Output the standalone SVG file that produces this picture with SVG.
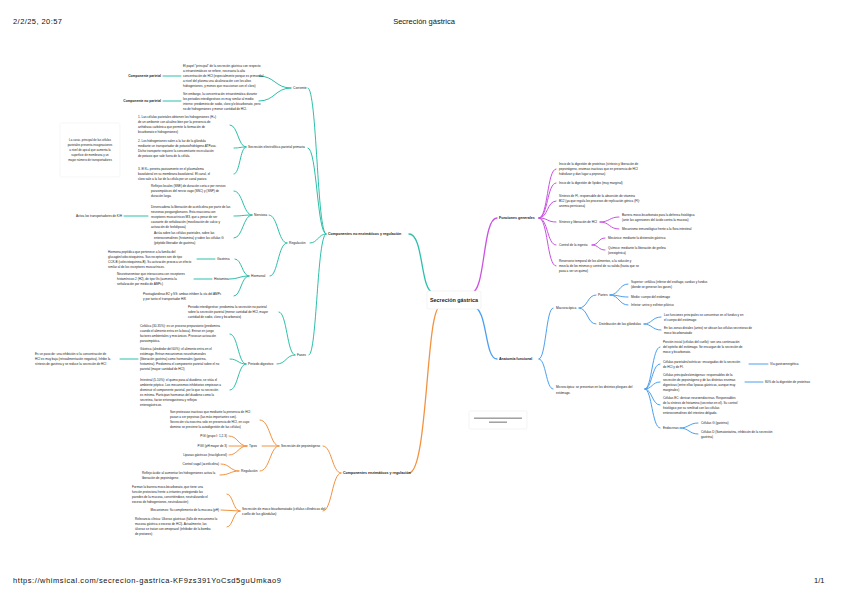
<svg xmlns="http://www.w3.org/2000/svg" width="848" height="599" viewBox="0 0 848 599">
<style>
text{font-family:"Liberation Sans",Arial,sans-serif;fill:#1c1c1c}
.t{font-size:3.1px}
.l{font-size:3.3px}
.b{font-size:3.6px;font-weight:bold}
.bp{font-size:3.3px;font-weight:bold}
.h{font-size:7.5px;fill:#111}
.c{fill:none;stroke-width:1;stroke-linecap:round}
.tc{stroke:#2dbfa9}
.oc{stroke:#f29240}
.pc{stroke:#c952e0}
.bc{stroke:#4c9ff0}
.m{stroke-width:1.3}
</style>
<rect width="848" height="599" fill="#fff"/>
<text class="h" x="13" y="24" textLength="49">2/2/25, 20:57</text>
<text class="h" x="424" y="24" text-anchor="middle">Secreción gástrica</text>
<text class="h" x="13" y="583" textLength="268">https://whimsical.com/secrecion-gastrica-KF9zs391YoCsd5guUmkao9</text>
<text class="h" x="814" y="583">1/1</text>

<g id="connectors">
<!-- main -->
<path class="c tc m" d="M409 234 C424 234,420 293,434 293"/>
<path class="c oc m" d="M409 473 C428 473,426 307,440 307"/>
<path class="c pc m" d="M471 293 C486 293,482 218,497 218"/>
<path class="c bc m" d="M473 307 C488 307,484 359,497 359"/>
<!-- teal -->
<path class="c tc" d="M326 234 C317 234,317 88,308 88"/>
<path class="c tc" d="M326 234 C317 234,317 148,308 148"/>
<path class="c tc" d="M326 234 C318 234,318 243,310 243"/>
<path class="c tc" d="M326 234 C317 234,317 355,309 355"/>
<path class="c tc" d="M291 88 C275 88,275 76,259 76"/>
<path class="c tc" d="M291 88 C275 88,275 101,259 101"/>
<path class="c tc" d="M181 76 L163 76"/>
<path class="c tc" d="M181 101 L163 101"/>
<path class="c tc" d="M246 147 C238 147,238 125,230 125"/>
<path class="c tc" d="M246 147 C240 147,240 148,234 148"/>
<path class="c tc" d="M246 147 C240 147,240 174,234 174"/>
<path class="c tc" d="M287 243 C278 243,278 215,269 215"/>
<path class="c tc" d="M287 243 C278 243,278 276,270 276"/>
<path class="c tc" d="M252 215 C243 215,243 191,234 191"/>
<path class="c tc" d="M252 215 C243 215,243 216,234 216"/>
<path class="c tc" d="M252 215 C243 215,243 238,234 238"/>
<path class="c tc" d="M148 216 L124 216"/>
<path class="c tc" d="M249 276 C242 276,242 259,235 259"/>
<path class="c tc" d="M249 276 C239 276,239 279,229 279"/>
<path class="c tc" d="M249 276 C241 276,241 296,234 296"/>
<path class="c tc" d="M215 259 L197 259"/>
<path class="c tc" d="M212 279 L194 279"/>
<path class="c tc" d="M295 355 C287 355,287 312,279 312"/>
<path class="c tc" d="M295 355 C286 355,286 364,277 364"/>
<path class="c tc" d="M246 364 C238 364,238 334,230 334"/>
<path class="c tc" d="M246 364 C238 364,238 359,230 359"/>
<path class="c tc" d="M246 364 C238 364,238 390,230 390"/>
<path class="c tc" d="M138 359 L120 359"/>
<!-- orange -->
<path class="c oc" d="M341 473 C332 473,332 446,323 446"/>
<path class="c oc" d="M341 473 C332 473,332 511,323 511"/>
<path class="c oc" d="M279 446 C270 446,270 420,260 420"/>
<path class="c oc" d="M279 446 L262 446"/>
<path class="c oc" d="M279 446 C270 446,270 471,260 471"/>
<path class="c oc" d="M247 446 C238 446,238 436,229 436"/>
<path class="c oc" d="M247 446 L229 446"/>
<path class="c oc" d="M247 446 C238 446,238 455,229 455"/>
<path class="c oc" d="M239 471 C230 471,230 464,221 464"/>
<path class="c oc" d="M239 471 C230 471,230 475,220 475"/>
<path class="c oc" d="M240 511 C233 511,233 494,227 494"/>
<path class="c oc" d="M240 511 L221 510"/>
<path class="c oc" d="M240 511 C233 511,233 527,227 527"/>
<!-- purple -->
<path class="c pc" d="M539 218 C548 218,547 169,556 169"/>
<path class="c pc" d="M539 218 C548 218,547 183,556 183"/>
<path class="c pc" d="M539 218 C548 218,547 201,556 201"/>
<path class="c pc" d="M539 218 C548 218,547 222,556 222"/>
<path class="c pc" d="M539 218 C548 218,547 245,556 245"/>
<path class="c pc" d="M539 218 C548 218,547 266,556 266"/>
<path class="c pc" d="M600 222 C610 222,609 217,619 217"/>
<path class="c pc" d="M600 222 C610 222,609 229,619 229"/>
<path class="c pc" d="M592 245 C599 245,598 238,605 238"/>
<path class="c pc" d="M592 245 C599 245,598 250,605 250"/>
<!-- blue -->
<path class="c bc" d="M539 359 C546 359,546 308,553 308"/>
<path class="c bc" d="M539 359 C546 359,546 389,553 389"/>
<path class="c bc" d="M579 308 C588 308,587 295,596 295"/>
<path class="c bc" d="M579 308 C588 308,587 324,596 324"/>
<path class="c bc" d="M610 295 C619 295,619 284,628 284"/>
<path class="c bc" d="M610 295 C619 295,619 297,628 297"/>
<path class="c bc" d="M610 295 C619 295,619 305,628 305"/>
<path class="c bc" d="M644 324 C652 324,652 317,661 317"/>
<path class="c bc" d="M644 324 C652 324,652 330,661 330"/>
<path class="c bc" d="M645 389 C652 389,652 347,660 347"/>
<path class="c bc" d="M645 389 C652 389,652 364,660 364"/>
<path class="c bc" d="M645 389 C652 389,652 382,660 382"/>
<path class="c bc" d="M645 389 C652 389,652 405,660 405"/>
<path class="c bc" d="M645 389 C652 389,652 428,660 428"/>
<path class="c bc" d="M749 364 L768 364"/>
<path class="c bc" d="M745 382 L763 382"/>
<path class="c bc" d="M680 428 C689 428,689 423,698 423"/>
<path class="c bc" d="M680 428 C689 428,689 434,698 434"/>
</g>

<g id="central">
<rect x="427" y="291" width="54" height="18" rx="2" fill="#fff" stroke="#ececec" stroke-width="0.6"/>
<text x="454" y="302" text-anchor="middle" style="font-size:5.4px;font-weight:bold">Secreción gástrica</text>
</g>
<g id="note-box">
<rect x="469" y="411" width="58" height="18" rx="1.5" fill="#fff" stroke="#ececec" stroke-width="0.6"/>
<rect x="474" y="417.5" width="48" height="1.4" fill="#9a9a9a"/>
<rect x="489" y="421.5" width="18" height="1.4" fill="#9a9a9a"/>
</g>

<!-- TEAL -->
<g id="teal-main"><text class="b" x="328" y="235.3">Componentes no enzimáticos y regulación</text></g>
<g id="corriente"><text class="l" x="293" y="89.2">Corriente</text></g>
<g id="corriente-1"><text class="t" x="183" y="67.1"><tspan x="183">El papel “principal” de la secreción gástrica con respecto</tspan><tspan x="183" dy="5">a intraestimáticos se refiere, necesaria la alta</tspan><tspan x="183" dy="5">concentración de HCl (especialmente porque es primordial</tspan><tspan x="183" dy="5">a nivel del plasma una alcalinización con los altos</tspan><tspan x="183" dy="5">hidrogeniones, y menos que reaccionan con el cloro)</tspan></text></g>
<g id="comp-parietal"><text class="bp" x="161" y="77.2" text-anchor="end">Componente parietal</text></g>
<g id="corriente-2"><text class="t" x="183" y="95.1"><tspan x="183">Sin embargo, la concentración intraestimática durante</tspan><tspan x="183" dy="5">los periodos interdigestivos es muy similar al medio</tspan><tspan x="183" dy="5">interno: predominio de sodio, cloro y/o bicarbonato, pero</tspan><tspan x="183" dy="5">no de hidrogeniones y menor cantidad de HCl.</tspan></text></g>
<g id="comp-no-parietal"><text class="bp" x="161" y="102.2" text-anchor="end">Componente no parietal</text></g>
<g id="nota-parietal">
<rect x="60" y="123" width="60" height="54" rx="1.5" fill="#fff" stroke="#f0f0f0" stroke-width="0.6"/>
<text style="font-size:2.9px" x="90" y="141" text-anchor="middle"><tspan x="90">La carac. principal de las células</tspan><tspan x="90" dy="5">parietales presenta invaginaciones</tspan><tspan x="90" dy="5">a nivel de apical que aumenta la</tspan><tspan x="90" dy="5">superficie de membrana y un</tspan><tspan x="90" dy="5">mayor número de transportadores</tspan></text>
</g>
<g id="sec-electrolitica"><text class="l" x="248" y="148.2">Secreción electrolítica parietal primaria</text></g>
<g id="se-1"><text class="t" x="138" y="118.1"><tspan x="138">1. Las células parietales obtienen los hidrogeniones (H+)</tspan><tspan x="138" dy="5">de un ambiente con alcalino bien por la presencia de</tspan><tspan x="138" dy="5">anhidrasa carbónica que permite la formación de</tspan><tspan x="138" dy="5">bicarbonato e hidrogeniones)</tspan></text></g>
<g id="se-2"><text class="t" x="138" y="142.1"><tspan x="138">2. Los hidrogeniones salen a la luz de la glándula</tspan><tspan x="138" dy="5">mediante un transportador de potasio/hidrógeno ATPasa.</tspan><tspan x="138" dy="5">Dicho transporte requiere la concomitante recirculación</tspan><tspan x="138" dy="5">de potasio que sale fuera de la célula.</tspan></text></g>
<g id="se-3"><text class="t" x="138" y="170.1"><tspan x="138">3. El K+ penetra pasivamente en el plasmalema</tspan><tspan x="138" dy="5">basolateral en su membrana basolateral. El canal, el</tspan><tspan x="138" dy="5">cloro sale a la luz de la célula por un canal pasivo.</tspan></text></g>
<g id="regulacion"><text class="l" x="289" y="244.2">Regulación</text></g>
<g id="nerviosa"><text class="l" x="254" y="216.2">Nerviosa</text></g>
<g id="n-1"><text class="t" x="151" y="187.1"><tspan x="151">Reflejos locales (SNE) de duración corta o por nervios</tspan><tspan x="151" dy="5">parasimpáticos del nervio vago (SNC) y (SNP) de</tspan><tspan x="151" dy="5">duración larga.</tspan></text></g>
<g id="n-2"><text class="t" x="151" y="208.1"><tspan x="151">Desencadena la liberación de acetilcolina por parte de las</tspan><tspan x="151" dy="5">neuronas posganglionares. Esta reacciona con</tspan><tspan x="151" dy="5">receptores muscarínicos M3, que a pesar de ser</tspan><tspan x="151" dy="5">causante de señalización (movilización de calcio y</tspan><tspan x="151" dy="5">activación de fosfolipasa)</tspan></text></g>
<g id="activa"><text class="t" x="122" y="217.1" text-anchor="end">Activa los transportadores de K/H</text></g>
<g id="n-3"><text class="t" x="154" y="234.1"><tspan x="154">Actúa sobre las células parietales, sobre las</tspan><tspan x="154" dy="5">enterocromafines (histamina) y sobre las células G</tspan><tspan x="154" dy="5">(péptido liberador de gastrina)</tspan></text></g>
<g id="hormonal"><text class="l" x="251" y="277.2">Hormonal</text></g>
<g id="gastrina"><text class="l" x="217" y="260.2">Gastrina</text></g>
<g id="gastrina-txt"><text class="t" x="108" y="253.1"><tspan x="108">Hormona peptídica que pertenece a la familia del</tspan><tspan x="108" dy="5">glucagón/colecistoquinina. Sus receptores son de tipo</tspan><tspan x="108" dy="5">CCK-B (colecistoquinina-B). Su activación provoca un efecto</tspan><tspan x="108" dy="5">similar al de los receptores muscarínicos.</tspan></text></g>
<g id="histamina"><text class="l" x="214" y="280.2">Histamina</text></g>
<g id="histamina-txt"><text class="t" x="117" y="275.1"><tspan x="117">Neurotransmisor que interacciona con receptores</tspan><tspan x="117" dy="5">histamínicos 2 (H2), de tipo Gs (aumenta la</tspan><tspan x="117" dy="5">señalización por medio de AMPc)</tspan></text></g>
<g id="prostaglandinas"><text class="t" x="143" y="295.1"><tspan x="143">Prostaglandinas E2 y SS: ambas inhiben la vía del AMPc</tspan><tspan x="143" dy="5">y por tanto el transportador H/K</tspan></text></g>
<g id="fases"><text class="l" x="297" y="356.2">Fases</text></g>
<g id="interdigestivo"><text class="t" x="188" y="308.1"><tspan x="188">Periodo interdigestivo: predomina la secreción no parietal</tspan><tspan x="188" dy="5">sobre la secreción parietal (menor cantidad de HCl, mayor</tspan><tspan x="188" dy="5">cantidad de sodio, cloro y bicarbonato)</tspan></text></g>
<g id="digestivo"><text class="l" x="248" y="365.2">Periodo digestivo</text></g>
<g id="cefalica"><text class="t" x="140" y="327.1"><tspan x="140">Cefálica (30-35%): es un proceso preparatorio (predomina</tspan><tspan x="140" dy="5">cuando el alimento entra en la boca). Entran en juego</tspan><tspan x="140" dy="5">factores ambientales y mecánicos. Provocan activación</tspan><tspan x="140" dy="5">parasimpática.</tspan></text></g>
<g id="gastrica"><text class="t" x="140" y="350.1"><tspan x="140">Gástrica (alrededor del 60%): el alimento entra en el</tspan><tspan x="140" dy="5">estómago. Entran mecanismos neurohumorales</tspan><tspan x="140" dy="5">(liberación gastrina) como hormonales (gastrina,</tspan><tspan x="140" dy="5">histamina). Predomina el componente parietal sobre el no</tspan><tspan x="140" dy="5">parietal (mayor cantidad de HCl)</tspan></text></g>
<g id="paso"><text class="t" x="35" y="355.1"><tspan x="35">Es un paso de: una inhibición si la concentración de</tspan><tspan x="35" dy="5">HCl es muy baja (retroalimentación negativa). Inhibe la</tspan><tspan x="35" dy="5">síntesis de gastrina y se reduce la secreción de HCl</tspan></text></g>
<g id="intestinal"><text class="t" x="140" y="381.1"><tspan x="140">Intestinal (5-10%): el quimo pasa al duodeno, se sitúa el</tspan><tspan x="140" dy="5">ambiente péptico. Los mecanismos inhibitorios empiezan a</tspan><tspan x="140" dy="5">disminuir el componente parietal, por lo que su secreción</tspan><tspan x="140" dy="5">es mínima. Participan hormonas del duodeno como la</tspan><tspan x="140" dy="5">secretina, factor enterogastrona y reflejos</tspan><tspan x="140" dy="5">enterogástricos.</tspan></text></g>

<!-- ORANGE -->
<g id="orange-main"><text class="b" x="343" y="474.3">Componentes enzimáticos y regulación</text></g>
<g id="pepsinogeno"><text class="l" x="281" y="447.2">Secreción de pepsinógeno</text></g>
<g id="sp-txt"><text class="t" x="170" y="413.1"><tspan x="170">Son proteasas inactivas que mediante la presencia de HCl</tspan><tspan x="170" dy="5">pasan a ser pepsinas (las más importantes son).</tspan><tspan x="170" dy="5">Secreción vía exocrina solo en presencia de HCl, en cuyo</tspan><tspan x="170" dy="5">dominio se previene la autodigestión de las células)</tspan></text></g>
<g id="tipos"><text class="l" x="249" y="447.2">Tipos</text></g>
<g id="pgi"><text class="t" x="227" y="437.1" text-anchor="end">PGI (grupo I: 1,2-3)</text></g>
<g id="pgii"><text class="t" x="227" y="447.1" text-anchor="end">PGII (pH mayor de 3)</text></g>
<g id="lipasas"><text class="t" x="227" y="456.1" text-anchor="end">Lipasas gástricas (triacilglicerol)</text></g>
<g id="regulacion-o"><text class="l" x="241" y="472.2">Regulación</text></g>
<g id="vagal"><text class="t" x="219" y="465.1" text-anchor="end">Control vagal (acetilcolina)</text></g>
<g id="reflejo"><text class="t" x="142" y="474.1"><tspan x="142">Reflejo ácido: al aumentar los hidrogeniones activa la</tspan><tspan x="142" dy="5">liberación de pepsinógeno</tspan></text></g>
<g id="moco"><text class="l" x="242" y="510.1"><tspan x="242">Secreción de moco bicarbonatado (células cilíndricas del</tspan><tspan x="242" dy="4.6">cuello de las glándulas)</tspan></text></g>
<g id="moco-1"><text class="t" x="132" y="488.1"><tspan x="132">Forman la barrera moco-bicarbonato, que tiene una</tspan><tspan x="132" dy="5">función protectora frente a irritantes protegiendo las</tspan><tspan x="132" dy="5">paredes de la mucosa, convirtiéndose, neutralizando el</tspan><tspan x="132" dy="5">exceso de hidrogeniones, neutralización)</tspan></text></g>
<g id="mecanismos"><text class="t" x="219" y="511.1" text-anchor="end">Mecanismos: Su complemento de la mucosa (pH)</text></g>
<g id="relevancia"><text class="t" x="135" y="520.1"><tspan x="135">Relevancia clínica: Úlceras gástricas (fallo de mecanismo la</tspan><tspan x="135" dy="5">mucosa gástrica o exceso de HCl). Actualmente, las</tspan><tspan x="135" dy="5">úlceras se tratan con omeprazol (inhibidor de la bomba</tspan><tspan x="135" dy="5">de protones)</tspan></text></g>

<!-- PURPLE -->
<g id="funciones"><text class="b" x="499" y="219.3">Funciones generales</text></g>
<g id="f-1"><text class="t" x="559" y="165.1"><tspan x="559">Inicio de la digestión de proteínas (síntesis y liberación de</tspan><tspan x="559" dy="5">pepsinógeno, enzimas inactivas que en presencia de HCl</tspan><tspan x="559" dy="5">hidrolizan y dan lugar a pepsinas)</tspan></text></g>
<g id="f-2"><text class="t" x="559" y="184.1">Inicio de la digestión de lípidos (muy marginal)</text></g>
<g id="f-3"><text class="t" x="559" y="197.1"><tspan x="559">Síntesis de FI, responsable de la absorción de vitamina</tspan><tspan x="559" dy="5">B12 (ya que regula los procesos de replicación génica (FI):</tspan><tspan x="559" dy="5">anemia perniciosa)</tspan></text></g>
<g id="f-4"><text class="t" x="559" y="223.1">Síntesis y liberación de HCl</text></g>
<g id="f-4a"><text class="t" x="622" y="216.1"><tspan x="622">Barrera moco-bicarbonato para la defensa fisiológica</tspan><tspan x="622" dy="5">(ante las agresiones del ácido contra la mucosa)</tspan></text></g>
<g id="f-4b"><text class="t" x="622" y="230.1">Mecanismo inmunológico frente a la flora intestinal</text></g>
<g id="f-5"><text class="t" x="559" y="246.1">Control de la ingesta</text></g>
<g id="f-5a"><text class="t" x="608" y="239.1">Mecánico: mediante la distensión gástrica</text></g>
<g id="f-5b"><text class="t" x="608" y="249.1"><tspan x="608">Químico: mediante la liberación de grelina</tspan><tspan x="608" dy="5">(orexigénica)</tspan></text></g>
<g id="f-6"><text class="t" x="559" y="262.1"><tspan x="559">Reservorio temporal de los alimentos, a la solución y</tspan><tspan x="559" dy="5">mezcla de los mismos y control de su salida (hasta que se</tspan><tspan x="559" dy="5">pasa a ser un quimo)</tspan></text></g>

<!-- BLUE -->
<g id="anatomia"><text class="b" x="499" y="360.3">Anatomía funcional</text></g>
<g id="macro"><text class="l" x="556" y="309.2">Macroscópica</text></g>
<g id="partes"><text class="l" x="598" y="296.2">Partes</text></g>
<g id="superior"><text class="t" x="631" y="283.1"><tspan x="631">Superior: cefálica (inferior del esófago, cardias y fundus</tspan><tspan x="631" dy="5">(donde se generan los gases)</tspan></text></g>
<g id="medio"><text class="t" x="631" y="298.1">Medio: cuerpo del estómago</text></g>
<g id="inferior"><text class="t" x="631" y="306.1">Inferior: antro y esfínter pilórico</text></g>
<g id="distribucion"><text class="l" x="599" y="325.2">Distribución de las glándulas</text></g>
<g id="dist-1"><text class="t" x="664" y="316.1"><tspan x="664">Las funciones principales se concentran en el fundus y en</tspan><tspan x="664" dy="5">el cuerpo del estómago</tspan></text></g>
<g id="dist-2"><text class="t" x="664" y="329.1"><tspan x="664">En las zonas distales (antro) se ubican las células secretoras de</tspan><tspan x="664" dy="5">moco bicarbonatado</tspan></text></g>
<g id="micro"><text class="t" x="556" y="388.1"><tspan x="556">Microscópica: se presentan en los distintos pliegues del</tspan><tspan x="556" dy="5.5">estómago.</tspan></text></g>
<g id="porcion"><text class="t" x="663" y="343.1"><tspan x="663">Porción inicial (células del cuello): son una continuación</tspan><tspan x="663" dy="5">del epitelio del estómago. Se encargan de la secreción de</tspan><tspan x="663" dy="5">moco y bicarbonato.</tspan></text></g>
<g id="parietales"><text class="t" x="663" y="363.1"><tspan x="663">Células parietales/oxínticas: encargadas de la secreción</tspan><tspan x="663" dy="5">de HCl y de FI.</tspan></text></g>
<g id="via"><text class="t" x="770" y="365.1">Vía gastroenergética</text></g>
<g id="principales"><text class="t" x="663" y="376.1"><tspan x="663">Células principales/zimógenas: responsables de la</tspan><tspan x="663" dy="4.8">secreción de pepsinógeno y de las distintas enzimas</tspan><tspan x="663" dy="4.8">digestivas (entre ellas lipasas gástricas, aunque muy</tspan><tspan x="663" dy="4.8">marginales)</tspan></text></g>
<g id="ochenta"><text class="t" x="765" y="383.1">80% de la digestión de proteínas</text></g>
<g id="ec"><text class="t" x="663" y="399.1"><tspan x="663">Células EC: derivan neuroendocrinas. Responsables</tspan><tspan x="663" dy="5">de la síntesis de histamina (secretan en el). Su control</tspan><tspan x="663" dy="5">fisiológico por su similitud con las células</tspan><tspan x="663" dy="5">enterocromafines del intestino delgado.</tspan></text></g>
<g id="endocrinas"><text class="t" x="663" y="429.1">Endocrinas</text></g>
<g id="celulas-g"><text class="t" x="701" y="424.1">Células G (gastrina)</text></g>
<g id="celulas-d"><text class="t" x="701" y="433.1"><tspan x="701">Células D (Somatostatina, inhibición de la secreción</tspan><tspan x="701" dy="4.5">gastrina)</tspan></text></g>
</svg>
